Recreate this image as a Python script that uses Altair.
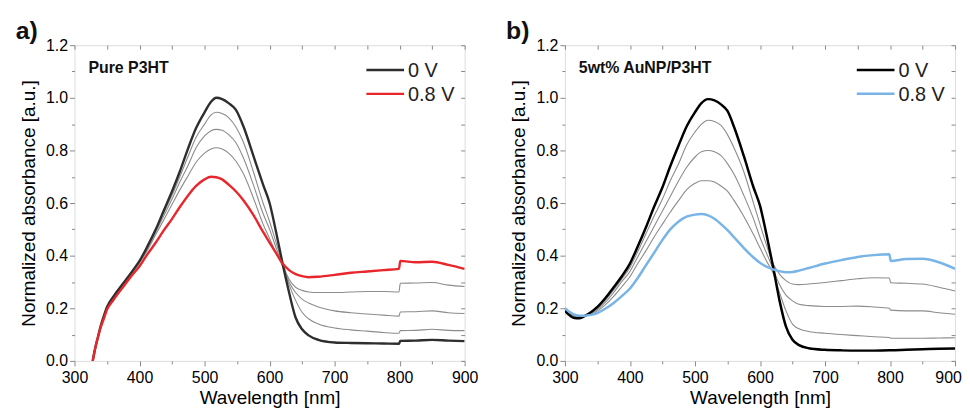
import altair as alt
import pandas as pd

FONT = "Liberation Sans"

# ---------------- Panel a: Pure P3HT ----------------
wl_a = [328, 332, 336, 340, 345, 350, 360, 375, 390, 400, 412, 425, 437, 450, 462, 475, 487,
        500, 510, 518, 527, 537, 548, 560, 575, 590, 600, 610, 620, 630, 640, 650, 660, 675,
        700, 725, 750, 775, 799, 801, 825, 850, 875, 900]
a_0V = [0.0, 0.05, 0.09, 0.13, 0.17, 0.205, 0.245, 0.295, 0.345, 0.38, 0.435, 0.5, 0.57, 0.645,
        0.72, 0.81, 0.885, 0.945, 0.985, 1.0, 0.995, 0.98, 0.955, 0.89, 0.78, 0.67, 0.6, 0.49,
        0.37, 0.26, 0.165, 0.12, 0.097, 0.08, 0.07, 0.068, 0.067, 0.066, 0.065, 0.076, 0.077,
        0.08, 0.077, 0.075]
a_02V = [0.0, 0.05, 0.09, 0.13, 0.17, 0.204, 0.244, 0.293, 0.343, 0.378, 0.43, 0.495, 0.56,
         0.63, 0.7, 0.78, 0.85, 0.9, 0.935, 0.945, 0.94, 0.925, 0.89, 0.83, 0.72, 0.6, 0.53,
         0.45, 0.37, 0.31, 0.28, 0.268, 0.262, 0.26, 0.26, 0.262, 0.264, 0.264, 0.262, 0.295,
         0.296, 0.298, 0.288, 0.283]
a_04V = [0.0, 0.05, 0.09, 0.13, 0.169, 0.203, 0.243, 0.291, 0.341, 0.375, 0.425, 0.49, 0.55,
         0.615, 0.68, 0.745, 0.81, 0.855, 0.875, 0.88, 0.877, 0.86, 0.83, 0.77, 0.67, 0.56, 0.5,
         0.43, 0.365, 0.3, 0.26, 0.235, 0.22, 0.205, 0.19, 0.183, 0.178, 0.174, 0.17, 0.186,
         0.187, 0.19, 0.183, 0.18]
a_06V = [0.0, 0.05, 0.09, 0.13, 0.168, 0.202, 0.241, 0.289, 0.338, 0.372, 0.42, 0.48, 0.535,
         0.595, 0.65, 0.705, 0.755, 0.79, 0.805, 0.81, 0.805, 0.79, 0.76, 0.71, 0.62, 0.52, 0.465,
         0.41, 0.36, 0.29, 0.23, 0.185, 0.16, 0.14, 0.125, 0.118, 0.113, 0.108, 0.105, 0.115,
         0.116, 0.12, 0.116, 0.115]
a_08V = [0.0, 0.05, 0.09, 0.125, 0.16, 0.195, 0.232, 0.282, 0.33, 0.36, 0.405, 0.45, 0.495,
         0.54, 0.585, 0.63, 0.665, 0.69, 0.70, 0.698, 0.69, 0.67, 0.645, 0.61, 0.555, 0.49, 0.45,
         0.41, 0.37, 0.345, 0.33, 0.322, 0.318, 0.32, 0.327, 0.335, 0.34, 0.345, 0.35, 0.38,
         0.375, 0.377, 0.365, 0.35]

# ---------------- Panel b: 5wt% AuNP/P3HT ----------------
wl_b = [300, 305, 310, 315, 320, 325, 330, 340, 350, 362, 375, 387, 400, 412, 425, 437, 450,
        462, 475, 487, 500, 510, 520, 530, 540, 550, 560, 575, 590, 600, 610, 620, 630, 640,
        650, 660, 675, 700, 725, 750, 775, 799, 801, 825, 850, 875, 900]
b_0V = [0.19, 0.178, 0.168, 0.163, 0.162, 0.164, 0.17, 0.185, 0.205, 0.238, 0.28, 0.32, 0.37,
        0.435, 0.51, 0.585, 0.66, 0.74, 0.82, 0.89, 0.945, 0.98, 0.995, 0.99, 0.975, 0.95, 0.89,
        0.78, 0.66, 0.59, 0.48, 0.36, 0.23, 0.13, 0.08, 0.06, 0.048, 0.042, 0.04, 0.039, 0.039,
        0.04, 0.04, 0.042, 0.044, 0.046, 0.047]
b_02V = [0.195, 0.183, 0.173, 0.167, 0.165, 0.166, 0.17, 0.183, 0.2, 0.23, 0.27, 0.31, 0.355,
         0.415, 0.485, 0.55, 0.615, 0.685, 0.75, 0.82, 0.87, 0.9, 0.915, 0.91, 0.895, 0.86, 0.81,
         0.72, 0.6, 0.52, 0.44, 0.37, 0.33, 0.305, 0.292, 0.29, 0.292, 0.298, 0.305, 0.312,
         0.316, 0.315, 0.297, 0.295, 0.292, 0.28, 0.266]
b_04V = [0.197, 0.185, 0.175, 0.169, 0.167, 0.167, 0.17, 0.18, 0.195, 0.222, 0.26, 0.3, 0.34,
         0.395, 0.455, 0.51, 0.57, 0.625, 0.685, 0.735, 0.775, 0.795, 0.8, 0.795, 0.78, 0.75,
         0.71, 0.63, 0.54, 0.47, 0.41, 0.35, 0.29, 0.25, 0.228, 0.215, 0.21, 0.207, 0.207, 0.208,
         0.205, 0.2, 0.193, 0.19, 0.19, 0.183, 0.177]
b_06V = [0.198, 0.187, 0.177, 0.171, 0.169, 0.168, 0.17, 0.177, 0.19, 0.213, 0.245, 0.28, 0.32,
         0.37, 0.42, 0.47, 0.52, 0.565, 0.61, 0.65, 0.675, 0.685, 0.685, 0.68, 0.665, 0.645, 0.61,
         0.55, 0.48, 0.43, 0.38, 0.335, 0.26, 0.19, 0.14, 0.122, 0.112, 0.105, 0.1, 0.096, 0.092,
         0.089, 0.086, 0.086, 0.086, 0.087, 0.088]
b_08V = [0.2, 0.19, 0.182, 0.176, 0.173, 0.172, 0.172, 0.175, 0.182, 0.198, 0.22, 0.245, 0.275,
         0.315, 0.365, 0.41, 0.46, 0.5, 0.53, 0.548, 0.556, 0.558, 0.553, 0.54, 0.52, 0.497,
         0.47, 0.43, 0.393, 0.373, 0.358, 0.348, 0.341, 0.337, 0.338, 0.343, 0.353, 0.37, 0.383,
         0.395, 0.402, 0.405, 0.38, 0.387, 0.388, 0.375, 0.35]

series_names = ["0.2 V", "0.4 V", "0.6 V", "0 V", "0.8 V"]  # draw order: grays, black, colour
legend_values = ["0 V", "0.8 V"]
panel_titles = ["a)", "b)"]
sample_labels = ["Pure P3HT", "5wt% AuNP/P3HT"]

x_ticks = list(range(300, 901, 50))
y_ticks = [round(i * 0.1, 1) for i in range(13)]


def to_long(wl, series_list):
    rows = []
    for name, vals in zip(series_names, series_list):
        for k, (w, v) in enumerate(zip(wl, vals)):
            rows.append({"wl": w, "value": v, "series": name, "k": k})
    return pd.DataFrame(rows)


def panel(df, colors, thick, title, sample, last_shift):
    cscale = alt.Scale(domain=series_names, range=colors)
    base = alt.Chart(df)
    lines = base.mark_line(interpolate="monotone", clip=True).encode(
        x=alt.X("wl:Q", scale=alt.Scale(domain=[300, 900], nice=False, zero=False),
                axis=alt.Axis(values=x_ticks, title="Wavelength [nm]", grid=False, domain=False,
                              labelExpr="datum.value % 100 === 0 ? datum.label : ''",
                              tickSize={"condition": {"test": "datum.value % 100 === 0", "value": 5}, "value": 3},
                              labelOffset={"condition": {"test": "datum.value === 900", "value": last_shift}, "value": 0},
                              labelFontSize=16, titleFontSize=19, labelPadding=4, titlePadding=3,
                              titleFontWeight="normal", labelFlush=False)),
        y=alt.Y("value:Q", scale=alt.Scale(domain=[0, 1.2], nice=False),
                axis=alt.Axis(values=y_ticks, title="Normalized absorbance [a.u.]", grid=False,
                              domain=False, format=".1f",
                              labelExpr="round(datum.value*10) % 2 === 0 ? datum.label : ''",
                              tickSize={"condition": {"test": "round(datum.value*10) % 2 === 0", "value": 5}, "value": 3},
                              labelFontSize=16, titleFontSize=19, labelPadding=2, titlePadding=7,
                              titleFontWeight="normal", labelFlush=False)),
        color=alt.Color("series:N", scale=cscale, legend=None),
        strokeWidth=alt.condition("datum.series === '0 V' || datum.series === '0.8 V'",
                                  alt.value(thick), alt.value(1.1)),
        order="k:Q",
    )
    inner = base.mark_line(opacity=0).encode(
        x=alt.X("wl:Q", axis=alt.Axis(orient="top", values=x_ticks, labels=False, title=None,
                                      domain=False, grid=False, tickSize=4, offset=-4)),
        y=alt.Y("value:Q", axis=alt.Axis(orient="right", values=y_ticks, labels=False, title=None,
                                         domain=False, grid=False, tickSize=4, offset=-4)),
    )
    txt = alt.Chart(pd.DataFrame({"t": [sample]})).mark_text(
        align="left", baseline="middle", fontSize=16, fontWeight="bold", font=FONT, color="#111"
    ).encode(text="t:N", x=alt.value(14), y=alt.value(23))
    # hand-placed legend (two entries)
    leg_layers = []
    for i, name in enumerate(legend_values):
        ldf = pd.DataFrame({"series": [name]})
        yy = 25 + 24 * i
        leg_layers.append(alt.Chart(ldf).mark_rule(strokeWidth=thick).encode(
            x=alt.value(294), x2=alt.value(332), y=alt.value(yy),
            color=alt.Color("series:N", scale=cscale, legend=None)))
        leg_layers.append(alt.Chart(ldf).mark_text(
            align="left", baseline="middle", fontSize=20, font=FONT, color="#222"
        ).encode(text="series:N", x=alt.value(336), y=alt.value(yy + 1)))
    return alt.layer(lines, inner, txt, *leg_layers).resolve_axis(
        x="independent", y="independent").properties(
        width=393, height=318,
        title=alt.TitleParams(title, anchor="start", fontSize=25, fontWeight="bold", font=FONT,
                              color="#111", dx=-4, offset=-7),
    )


df_a = to_long(wl_a, [a_02V, a_04V, a_06V, a_0V, a_08V])
df_b = to_long(wl_b, [b_02V, b_04V, b_06V, b_0V, b_08V])

gray = "#8c8c8c"
pa = panel(df_a, [gray, gray, gray, "#2e2e2e", "#e8262b"], 2.4, panel_titles[0], sample_labels[0], 0)
pb = panel(df_b, [gray, gray, gray, "#000000", "#78b4e6"], 2.5, panel_titles[1], sample_labels[1], -7)

chart = alt.hconcat(pa, pb, spacing=27).resolve_scale(
    color="independent"
).properties(
    padding={"left": 7, "top": 9, "right": 0, "bottom": 0}
).configure_view(stroke="#222", strokeWidth=1.2).configure_axis(
    labelFont=FONT, titleFont=FONT, labelColor="#1a1a1a", titleColor="#1a1a1a",
    tickColor="#222", tickWidth=1.2
).configure(background="white")

chart.save("out.html", embed_options={"renderer": "svg", "actions": False})
